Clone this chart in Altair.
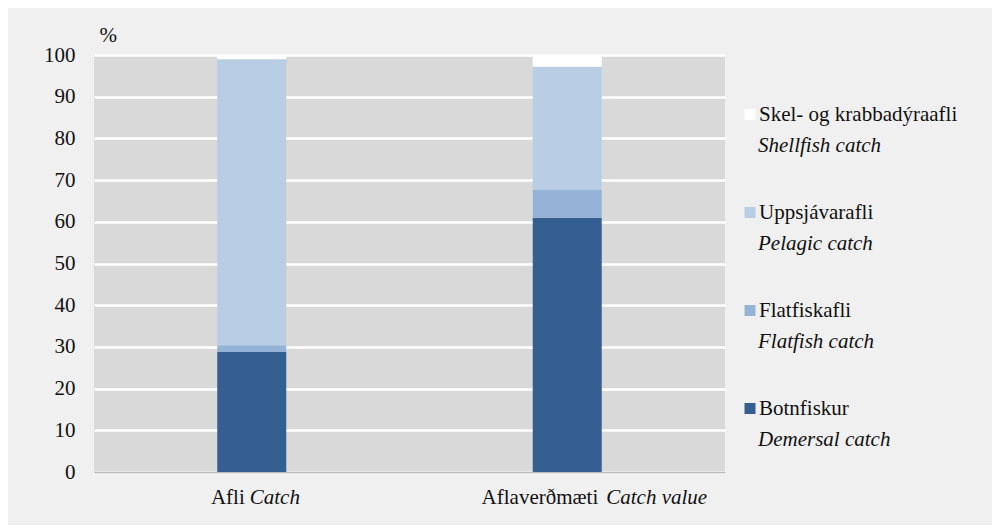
import altair as alt
import pandas as pd

# ---- data ----
categories = ["Afli", "Aflaverðmæti"]
categories_en = ["Catch", "Catch value"]
series_is = ["Botnfiskur", "Flatfiskafli", "Uppsjávarafli", "Skel- og krabbadýraafli"]
series_en = ["Demersal catch", "Flatfish catch", "Pelagic catch", "Shellfish catch"]
afli_values = [28.8, 1.6, 68.6, 1.0]
verdmaeti_values = [61.0, 6.6, 29.6, 2.8]
y_ticks = [0, 10, 20, 30, 40, 50, 60, 70, 80, 90, 100]
colors = ["#355f91", "#95b3d7", "#b9cde5", "#ffffff"]

FONT = "Liberation Serif"
FS = 21
TXT = "#111111"

rows = []
for cat, vals in zip(categories, [afli_values, verdmaeti_values]):
    for i, (s, v) in enumerate(zip(series_is, vals)):
        rows.append({"cat": cat, "series": s, "value": v, "order": i})
df = pd.DataFrame(rows)

color_scale = alt.Scale(domain=series_is, range=colors)

x_enc = alt.X("cat:N", sort=categories, title=None,
              scale=alt.Scale(domain=categories, paddingInner=0, paddingOuter=0),
              axis=alt.Axis(labels=False, ticks=False, domain=True,
                            domainColor="#b8b8b8", domainWidth=1.5, grid=False))

bars = alt.Chart(df).mark_bar(size=69).encode(
    x=x_enc,
    y=alt.Y("sum(value):Q", title="%",
            scale=alt.Scale(domain=[0, 100], nice=False),
            axis=alt.Axis(values=y_ticks, ticks=False, domain=False,
                          grid=True, gridColor="#ffffff", gridWidth=2.5,
                          labelFont=FONT, labelFontSize=FS, labelColor=TXT,
                          labelPadding=19,
                          titleAngle=0, titleAlign="left", titleBaseline="alphabetic",
                          titleX=5, titleY=-14, titleFont=FONT, titleFontSize=FS,
                          titleFontWeight="normal", titleColor=TXT)),
    color=alt.Color("series:N", scale=color_scale, legend=None),
    order=alt.Order("order:Q", sort="ascending"),
)

# ---- x category labels (roman + italic) ----
lab_df = pd.DataFrame({"cat": categories, "is": categories, "en": categories_en})
label_offsets = {"Afli": (-7, -2), "Aflaverðmæti": (31, 39)}
label_layers = []
for cat in categories:
    d_rom, d_it = label_offsets[cat]
    base = alt.Chart(lab_df).transform_filter(alt.datum.cat == cat)
    label_layers.append(
        base.mark_text(align="right", baseline="alphabetic", font=FONT, fontSize=FS,
                       color=TXT, dx=d_rom).encode(
            x=alt.X("cat:N", sort=categories, bandPosition=0.5),
            y=alt.value(449), text="is:N"))
    label_layers.append(
        base.mark_text(align="left", baseline="alphabetic", font=FONT, fontSize=FS,
                       fontStyle="italic", color=TXT, dx=d_it).encode(
            x=alt.X("cat:N", sort=categories, bandPosition=0.5),
            y=alt.value(449), text="en:N"))

# ---- custom legend ----
leg_df = pd.DataFrame({"series": series_is, "en": series_en,
                       "k": [3, 2, 1, 0]})
leg = alt.Chart(leg_df).transform_calculate(
    ly1="66 + 98 * datum.k", ly2="97 + 98 * datum.k", lsq="59.5 + 98 * datum.k")
leg_sq = leg.mark_square(size=121, opacity=1).encode(
    x=alt.value(656), y=alt.Y("lsq:Q", scale=None),
    color=alt.Color("series:N", scale=color_scale, legend=None))
leg_t1 = leg.mark_text(align="left", baseline="alphabetic", font=FONT, fontSize=FS,
                       color=TXT).encode(
    x=alt.value(665), y=alt.Y("ly1:Q", scale=None), text="series:N")
leg_t2 = leg.mark_text(align="left", baseline="alphabetic", font=FONT, fontSize=FS,
                       fontStyle="italic", color=TXT).encode(
    x=alt.value(664), y=alt.Y("ly2:Q", scale=None), text="en:N")

chart = alt.layer(bars, *label_layers, leg_sq, leg_t1, leg_t2).resolve_scale(
    y="independent"
).properties(
    width=631, height=417,
    autosize=alt.AutoSizeParams(type="none"),
    padding={"left": 86, "top": 47, "right": 267, "bottom": 53},
    background="#f0f0f0",
).configure_view(stroke=None, fill="#d9d9d9")

chart.save("out.html", embed_options={"renderer": "svg", "actions": False})
